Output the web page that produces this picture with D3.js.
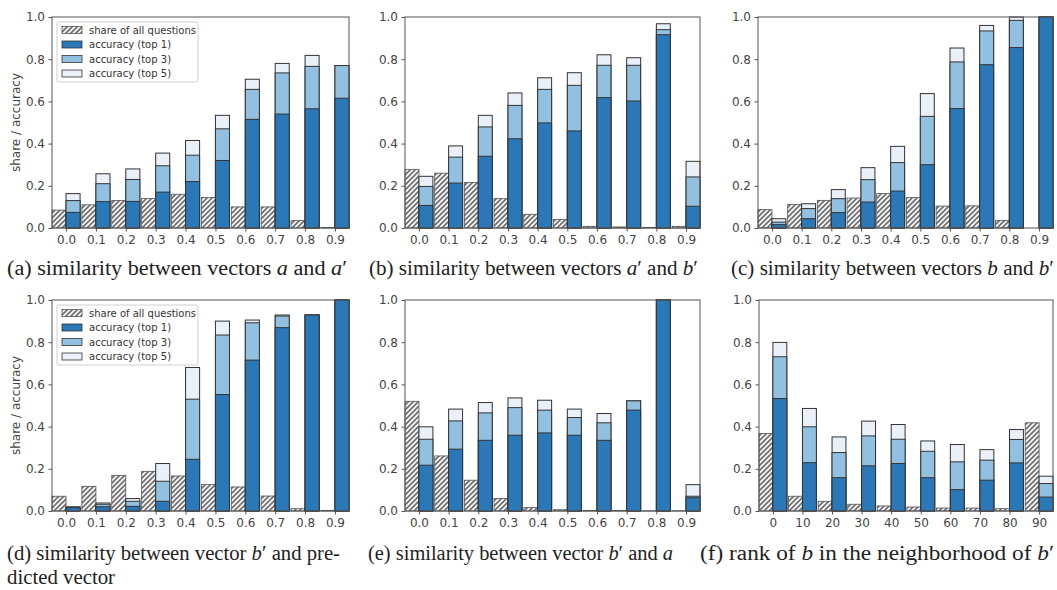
<!DOCTYPE html>
<html>
<head>
<meta charset="utf-8">
<script src="https://cdn.jsdelivr.net/npm/d3@7"></script>
<style>
  body { margin: 0; background: #fff; }
  svg { display: block; }
</style>
</head>
<body>
<svg id="chart" width="1057" height="590"></svg>
<script>
// tick labels
var simTicks = ["0.0", "0.1", "0.2", "0.3", "0.4", "0.5", "0.6", "0.7", "0.8", "0.9"];
var rankTicks = ["0", "10", "20", "30", "40", "50", "60", "70", "80", "90"];
var yTicks = [0, 0.2, 0.4, 0.6, 0.8, 1.0];
var legendLabels = ["share of all questions", "accuracy (top 1)", "accuracy (top 3)", "accuracy (top 5)"];

// (a) similarity between a and a'
var shareA = [0.085, 0.11, 0.13, 0.14, 0.16, 0.145, 0.10, 0.10, 0.035, 0.002];
var top1A  = [0.074, 0.125, 0.126, 0.17, 0.22, 0.32, 0.515, 0.54, 0.565, 0.615];
var top3A  = [0.13, 0.21, 0.23, 0.295, 0.345, 0.47, 0.657, 0.735, 0.766, 0.77];
var top5A  = [0.163, 0.257, 0.28, 0.355, 0.415, 0.534, 0.705, 0.78, 0.818, 0.77];

// (b) similarity between a' and b'
var shareB = [0.278, 0.26, 0.216, 0.139, 0.065, 0.04, 0.008, 0.005, 0.003, 0.008];
var top1B  = [0.107, 0.213, 0.34, 0.423, 0.498, 0.46, 0.618, 0.602, 0.916, 0.103];
var top3B  = [0.197, 0.336, 0.479, 0.581, 0.657, 0.676, 0.771, 0.771, 0.94, 0.242];
var top5B  = [0.245, 0.389, 0.534, 0.64, 0.712, 0.736, 0.821, 0.807, 0.968, 0.316];

// (c) similarity between b and b'
var shareC = [0.087, 0.112, 0.131, 0.142, 0.163, 0.144, 0.104, 0.105, 0.036, 0];
var top1C  = [0.016, 0.044, 0.073, 0.123, 0.175, 0.30, 0.566, 0.774, 0.855, 1.0];
var top3C  = [0.028, 0.092, 0.139, 0.229, 0.31, 0.529, 0.787, 0.934, 0.984, 1.0];
var top5C  = [0.044, 0.115, 0.182, 0.286, 0.387, 0.637, 0.853, 0.96, 1.0, 1.0];

// (d) similarity between b' and predicted vector
var shareD = [0.07, 0.117, 0.169, 0.188, 0.166, 0.125, 0.114, 0.071, 0.011, 0.003];
var top1D  = [0.016, 0.02, 0.022, 0.046, 0.245, 0.552, 0.715, 0.869, 0.929, 1.0];
var top3D  = [0.019, 0.032, 0.046, 0.141, 0.53, 0.834, 0.892, 0.924, 0.929, 1.0];
var top5D  = [0.019, 0.038, 0.059, 0.225, 0.68, 0.90, 0.905, 0.929, 0.929, 1.0];

// (e) similarity between b' and a
var shareE = [0.52, 0.261, 0.146, 0.059, 0.016, 0.006, 0.003, 0.003, 0.001, 0.001];
var top1E  = [0.217, 0.293, 0.335, 0.359, 0.37, 0.359, 0.335, 0.478, 1.0, 0.063];
var top3E  = [0.34, 0.427, 0.465, 0.49, 0.478, 0.443, 0.418, 0.522, 1.0, 0.07];
var top5E  = [0.399, 0.483, 0.514, 0.536, 0.525, 0.483, 0.462, 0.522, 1.0, 0.125];

// (f) rank of b in the neighborhood of b'
var shareF = [0.367, 0.07, 0.046, 0.032, 0.024, 0.019, 0.014, 0.014, 0.011, 0.418];
var top1F  = [0.533, 0.229, 0.158, 0.214, 0.225, 0.158, 0.101, 0.146, 0.228, 0.066];
var top3F  = [0.731, 0.399, 0.277, 0.356, 0.34, 0.283, 0.233, 0.241, 0.339, 0.13];
var top5F  = [0.799, 0.486, 0.351, 0.426, 0.41, 0.332, 0.315, 0.291, 0.386, 0.165];

var colTop1 = "#2a78b8", colTop3 = "#92c0e0", colTop5 = "#e9f0f8", edge = "#333";
var halfW = 0.47; // bar width in group units

var svg = d3.select("#chart");

// hatch for "share" bars
var defs = svg.append("defs");
var pat = defs.append("pattern")
  .attr("id", "hatch")
  .attr("patternUnits", "userSpaceOnUse")
  .attr("width", 5).attr("height", 5);
pat.append("rect").attr("width", 5).attr("height", 5).attr("fill", "#f4f4f4");
pat.append("path")
  .attr("d", "M0,5 L5,0 M-1,1 L1,-1 M4,6 L6,4")
  .attr("stroke", "#6e6e6e").attr("stroke-width", 1.6);

var panels = [
  {share: shareA, t1: top1A, t3: top3A, t5: top5A, ticks: simTicks, l: 52,  r: 349,  t: 17,  b: 228, legend: true,  ylab: true},
  {share: shareB, t1: top1B, t3: top3B, t5: top5B, ticks: simTicks, l: 405, r: 700,  t: 17,  b: 228},
  {share: shareC, t1: top1C, t3: top3C, t5: top5C, ticks: simTicks, l: 758, r: 1053, t: 17,  b: 228},
  {share: shareD, t1: top1D, t3: top3D, t5: top5D, ticks: simTicks, l: 52,  r: 349,  t: 300, b: 511, legend: true,  ylab: true},
  {share: shareE, t1: top1E, t3: top3E, t5: top5E, ticks: simTicks, l: 405, r: 700,  t: 300, b: 511},
  {share: shareF, t1: top1F, t3: top3F, t5: top5F, ticks: rankTicks, l: 759, r: 1053, t: 300, b: 511}
];

panels.forEach(function(p) {
  var n = p.share.length;
  var x = d3.scaleLinear().domain([-halfW, n - 1 + halfW]).range([p.l, p.r]);
  var y = d3.scaleLinear().domain([0, 1]).range([p.b, p.t]);
  var g = svg.append("g");

  var idx = d3.range(n);

  // share bars (left of tick)
  g.selectAll("rect.share").data(idx).enter().append("rect")
    .attr("x", function(i) { return x(i - halfW); })
    .attr("width", function(i) { return x(i) - x(i - halfW); })
    .attr("y", function(i) { return y(p.share[i]); })
    .attr("height", function(i) { return y(0) - y(p.share[i]); })
    .attr("fill", "url(#hatch)")
    .attr("stroke", "#555").attr("stroke-width", 0.8);

  // accuracy bars, drawn back to front
  [[p.t5, colTop5], [p.t3, colTop3], [p.t1, colTop1]].forEach(function(s) {
    g.selectAll(null).data(idx).enter().append("rect")
      .attr("x", function(i) { return x(i); })
      .attr("width", function(i) { return x(i + halfW) - x(i); })
      .attr("y", function(i) { return y(s[0][i]); })
      .attr("height", function(i) { return y(0) - y(s[0][i]); })
      .attr("fill", s[1])
      .attr("stroke", edge).attr("stroke-width", 1);
  });

  // frame
  g.append("rect")
    .attr("x", p.l).attr("y", p.t)
    .attr("width", p.r - p.l).attr("height", p.b - p.t)
    .attr("fill", "none").attr("stroke", "#555").attr("stroke-width", 1);

  // y axis
  var yAxis = d3.axisLeft(y).tickValues(yTicks).tickFormat(d3.format(".1f")).tickSizeOuter(0).tickSize(3.5).tickPadding(3.5);
  var ya = g.append("g").attr("transform", "translate(" + p.l + ",0)").call(yAxis);
  ya.select(".domain").remove();

  // x axis
  var xAxis = d3.axisBottom(x).tickValues(idx).tickFormat(function(i) { return p.ticks[i]; }).tickSizeOuter(0).tickSize(3.5).tickPadding(3.5);
  var xa = g.append("g").attr("transform", "translate(0," + p.b + ")").call(xAxis);
  xa.select(".domain").remove();

  [ya, xa].forEach(function(a) {
    a.selectAll("text").attr("font-family", "DejaVu Sans").attr("font-size", 12).attr("fill", "#444");
    a.selectAll("line").attr("stroke", "#555");
  });

  if (p.ylab) {
    g.append("text")
      .attr("transform", "translate(16," + ((p.t + p.b) / 2) + ") rotate(-90)")
      .attr("text-anchor", "middle")
      .attr("dominant-baseline", "central")
      .attr("font-family", "DejaVu Sans").attr("font-size", 12).attr("fill", "#444")
      .text("share / accuracy");
  }

  if (p.legend) {
    var lg = g.append("g").attr("transform", "translate(" + (p.l + 5) + "," + (p.t + 5) + ")");
    lg.append("rect").attr("width", 141).attr("height", 60).attr("rx", 2)
      .attr("fill", "#fff").attr("fill-opacity", 0.85).attr("stroke", "#d0d0d0");
    var fills = ["url(#hatch)", colTop1, colTop3, colTop5];
    legendLabels.forEach(function(lbl, i) {
      var yy = 8 + i * 14.5;
      lg.append("rect").attr("x", 5).attr("y", yy - 3.5).attr("width", 20).attr("height", 7)
        .attr("fill", fills[i]).attr("stroke", i == 0 ? "#555" : edge).attr("stroke-width", 0.8);
      lg.append("text").attr("x", 32).attr("y", yy)
        .attr("dominant-baseline", "central")
        .attr("font-family", "DejaVu Sans").attr("font-size", 10).attr("fill", "#333")
        .text(lbl);
    });
  }
});

// captions
var captions = [
  {x: 7,   y: 275, w: 340, parts: [["(a) similarity between vectors ", 0], ["a", 1], [" and ", 0], ["a", 1], ["\u2032", 0]]},
  {x: 369, y: 275, w: 329, parts: [["(b) similarity between vectors ", 0], ["a", 1], ["\u2032 and ", 0], ["b", 1], ["\u2032", 0]]},
  {x: 731, y: 275, w: 323, parts: [["(c) similarity between vectors ", 0], ["b", 1], [" and ", 0], ["b", 1], ["\u2032", 0]]},
  {x: 7,   y: 560, w: 333, parts: [["(d) similarity between vector ", 0], ["b", 1], ["\u2032 and pre-", 0]]},
  {x: 7,   y: 584, w: 108, parts: [["dicted vector", 0]]},
  {x: 368, y: 560, w: 305, parts: [["(e) similarity between vector ", 0], ["b", 1], ["\u2032 and ", 0], ["a", 1]]},
  {x: 700, y: 560, w: 354, parts: [["(f) rank of ", 0], ["b", 1], [" in the neighborhood of ", 0], ["b", 1], ["\u2032", 0]]}
];

captions.forEach(function(c) {
  var t = svg.append("text")
    .attr("x", c.x).attr("y", c.y)
    .style("font-family", "'Liberation Serif', 'Times New Roman', Times, serif")
    .attr("font-size", 20).attr("fill", "#222")
    .attr("textLength", c.w).attr("lengthAdjust", "spacingAndGlyphs");
  c.parts.forEach(function(pt) {
    t.append("tspan").attr("font-style", pt[1] ? "italic" : "normal").text(pt[0]);
  });
});
</script>
</body>
</html>
